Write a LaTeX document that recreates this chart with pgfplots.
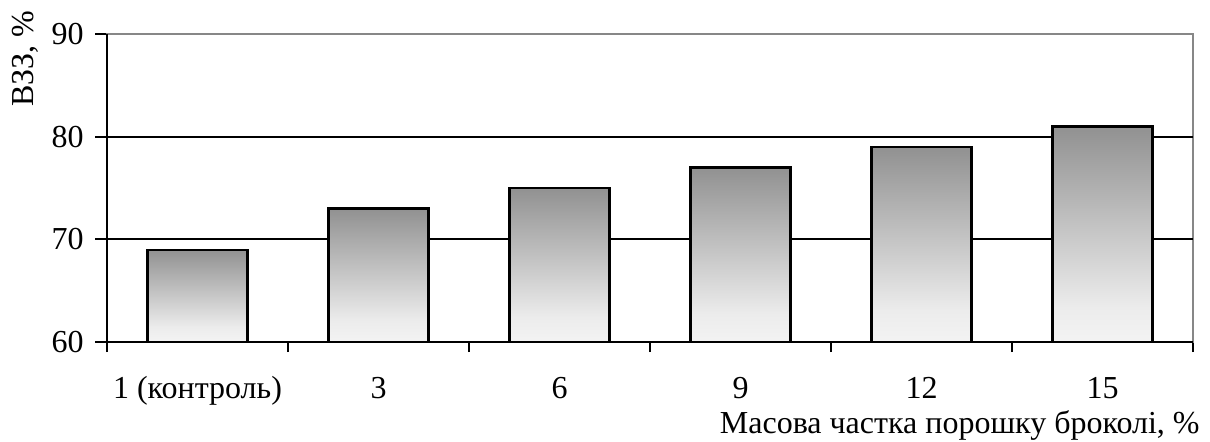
\documentclass[border=0pt]{standalone}
\usepackage{pgfplots}
\pgfplotsset{compat=1.18}
\usepackage{fontspec}
\setmainfont{Liberation Serif}

\definecolor{barlow}{RGB}{243,243,243}
\definecolor{barmid}{RGB}{236,236,236}
\definecolor{barhigh}{RGB}{145,145,145}
\definecolor{bordergray}{RGB}{135,135,135}

% vertical gradient of the bars: light at the base, darker towards the top
\pgfdeclareverticalshading{barshade}{100bp}{%
  color(0bp)=(barlow); color(25bp)=(barlow); color(33bp)=(barmid);
  color(75bp)=(barhigh); color(100bp)=(barhigh)}

\pgfplotsset{
  gradbar/.style={ybar, bar shift=0pt, bar width=0.552, draw=black,
    line width=1.1pt, shading=barshade},
}

\begin{document}
\begin{tikzpicture}[x=1pt,y=1pt]
\useasboundingbox (0,0) rectangle (605,220.5);
\begin{axis}[
  at={(53.5pt,49.5pt)}, anchor=south west,
  scale only axis, width=543pt, height=154pt,
  xmin=-0.5, xmax=5.5,
  ymin=60, ymax=90,
  % bars rise from the 60 level
  y coord trafo/.code={\pgfmathparse{#1-60}},
  y coord inv trafo/.code={\pgfmathparse{#1+60}},
  xtick={0,1,2,3,4,5},
  xticklabels={1 (контроль),3,6,9,12,15},
  minor xtick={-0.5,0.5,1.5,2.5,3.5,4.5,5.5},
  ytick={60,70,80,90},
  extra y ticks={70,80},
  extra y tick labels={},
  extra y tick style={grid=major, major tick length=0pt},
  grid style={black, line width=1.1pt},
  xtick pos=bottom, ytick pos=left,
  tick align=outside,
  major tick length=6pt, minor tick length=5pt,
  tick style={black, line width=1.1pt},
  major x tick style={draw=none},
  axis line style={draw=bordergray, line width=1pt},
  /pgf/number format/assume math mode=true,
  tick label style={font=\fontsize{16}{19}\selectfont},
  yticklabel style={anchor=east, inner sep=0pt, xshift=-5.5pt},
  xticklabel style={anchor=base, inner sep=0pt, yshift=-22pt},
  xlabel={Масова частка порошку броколі, \%},
  xlabel style={at={(axis description cs:1.0064,0)}, anchor=base east,
    inner sep=0pt, yshift=-45.5pt, font=\fontsize{16}{19}\selectfont},
  ylabel={ВЗЗ, \%},
  ylabel style={at={(axis description cs:-0.0681,0.763)},
    anchor=base west, inner sep=0pt, font=\fontsize{16}{19}\selectfont},
  clip=false,
]
% one path per bar so each carries its own gradient
\addplot[gradbar] coordinates {(0,69)};
\addplot[gradbar] coordinates {(1,73)};
\addplot[gradbar] coordinates {(2,75)};
\addplot[gradbar] coordinates {(3,77)};
\addplot[gradbar] coordinates {(4,79)};
\addplot[gradbar] coordinates {(5,81)};
\draw[black, line width=1.1pt] (rel axis cs:0,1) -- (rel axis cs:0,0) -- (rel axis cs:1,0);
\end{axis}
\end{tikzpicture}
\end{document}
